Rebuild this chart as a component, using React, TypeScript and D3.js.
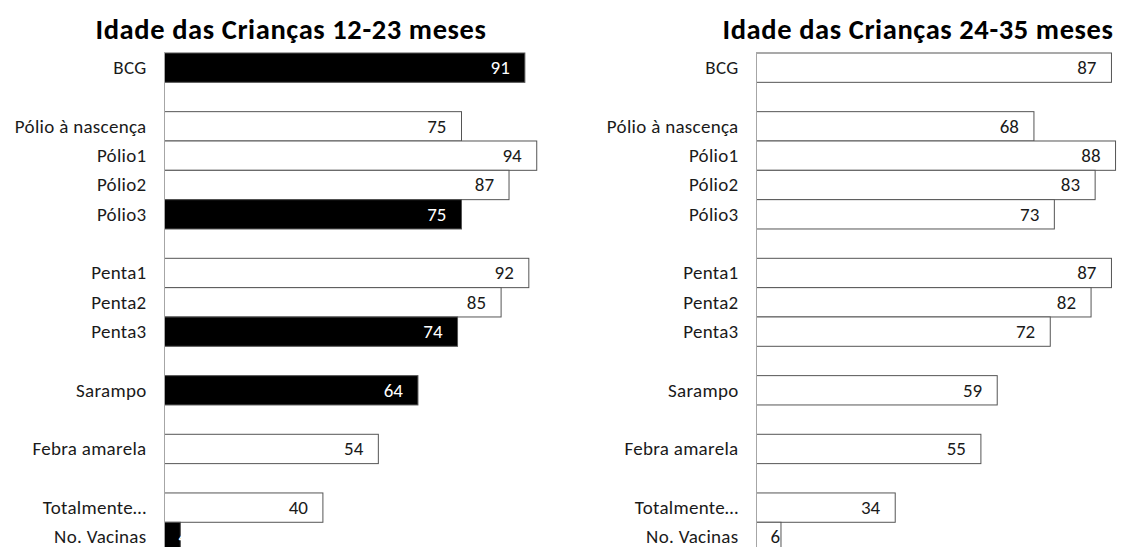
import React from "react";
import * as d3 from "d3";

const categories = [
  "BCG", "", "Pólio à nascença", "Pólio1", "Pólio2", "Pólio3", "",
  "Penta1", "Penta2", "Penta3", "", "Sarampo", "", "Febra amarela", "",
  "Totalmente…", "No. Vacinas",
];
const values1223: (number | null)[] = [91, null, 75, 94, 87, 75, null, 92, 85, 74, null, 64, null, 54, null, 40, 4];
const values2435: (number | null)[] = [87, null, 68, 88, 83, 73, null, 87, 82, 72, null, 59, null, 55, null, 34, 6];
const highlighted1223 = ["BCG", "Pólio3", "Penta3", "Sarampo", "No. Vacinas"];
const highlighted2435: string[] = [];
const titles = ["Idade das Crianças 12-23 meses", "Idade das Crianças 24-35 meses"];

const W = 1122;
const H = 547;
const FONT = "Carlito, Lato, 'Noto Sans', sans-serif";
const LABEL_SIZE = 19;

type PanelProps = {
  title: string;
  values: (number | null)[];
  highlighted: string[];
  x0: number;
  pxPerUnit: number;
  titleX: number;
};

function Panel({ title, values, highlighted, x0, pxPerUnit, titleX }: PanelProps) {
  const idx = categories.map((_, i) => String(i));
  const y = d3.scaleBand<string>().domain(idx).range([53, 53 + 29.33 * categories.length]).paddingInner(0).paddingOuter(0);
  const x = d3.scaleLinear().domain([0, 100]).range([x0, x0 + 100 * pxPerUnit]);
  const bw = y.bandwidth();
  return (
    <g>
      <text x={titleX} y={39} textAnchor="middle" fontFamily={FONT} fontWeight="bold" fontSize={28.5} letterSpacing={0.6} fill="#000">
        {title}
      </text>
      {categories.map((c, i) => {
        const v = values[i];
        const yy = y(String(i))!;
        const labels = (
          <text key={"l" + i} x={x0 - 18} y={yy + bw / 2} dy="0.33em" textAnchor="end" fontFamily={FONT} fontSize={LABEL_SIZE} letterSpacing={0.3} fill="#1a1a1a">
            {c}
          </text>
        );
        if (v === null) return labels;
        const hi = highlighted.includes(c);
        const xe = x(v);
        const small = xe - x0 < 40;
        return (
          <g key={i}>
            {labels}
            <rect x={x0} y={yy} width={xe - x0} height={bw} fill={hi ? "#000" : "#fff"} stroke="#555" strokeWidth={1} />
            <text
              x={small ? x0 + 14 : xe - 15}
              y={yy + bw / 2}
              dy="0.33em"
              textAnchor={small ? "start" : "end"}
              fontFamily={FONT}
              fontSize={LABEL_SIZE}
              fill={hi ? "#fff" : "#1a1a1a"}
            >
              {v}
            </text>
          </g>
        );
      })}
      <line x1={x0} x2={x0} y1={53} y2={53 + 29.33 * categories.length} stroke="#a6a6a6" strokeWidth={1} />
    </g>
  );
}

export default function App() {
  return (
    <svg width={W} height={H} style={{ position: "absolute", left: 0, top: 0, background: "#fff" }}>
      <rect width={W} height={H} fill="#fff" />
      <Panel title={titles[0]} values={values1223} highlighted={highlighted1223} x0={164.5} pxPerUnit={3.96} titleX={291} />
      <Panel title={titles[1]} values={values2435} highlighted={highlighted2435} x0={756.5} pxPerUnit={4.08} titleX={918} />
    </svg>
  );
}
